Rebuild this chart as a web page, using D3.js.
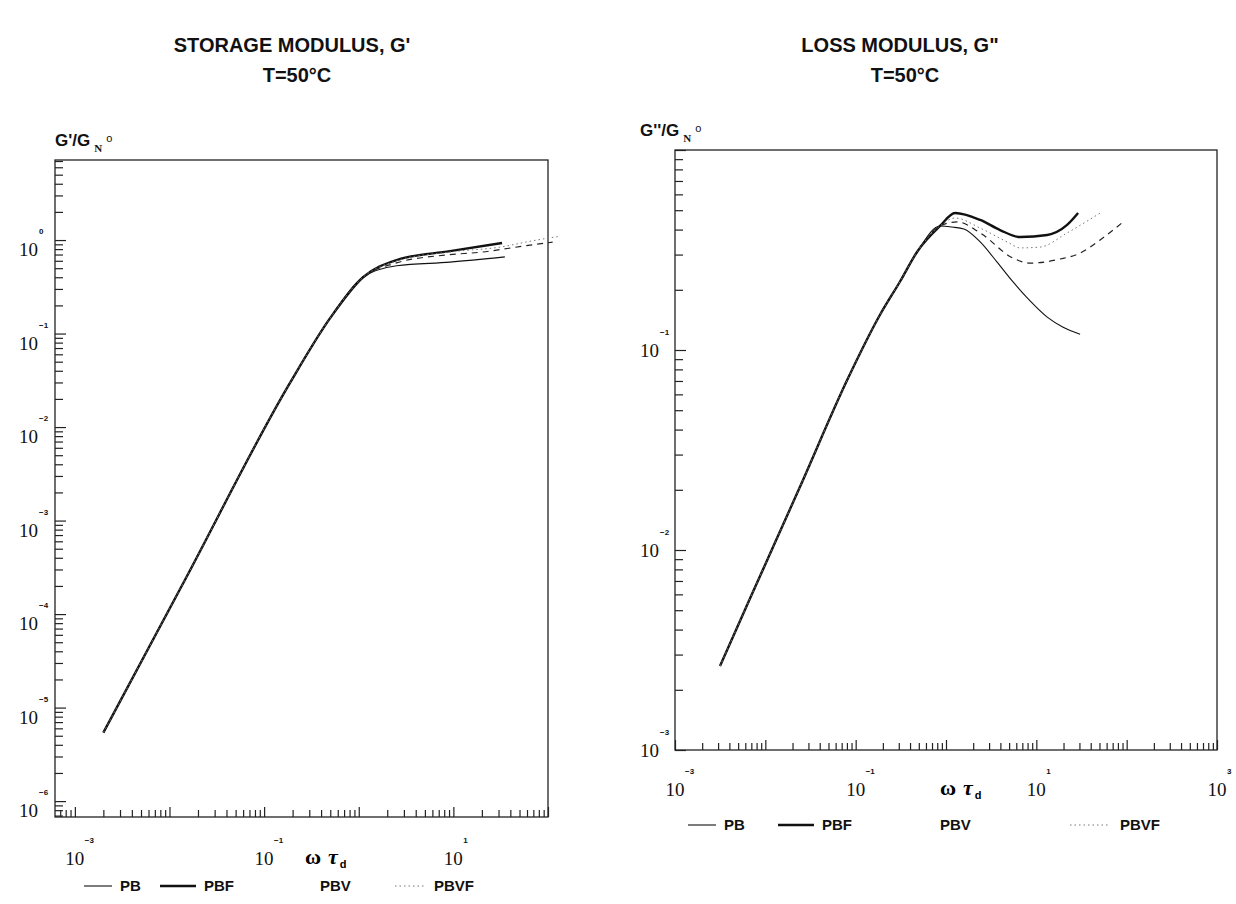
<!DOCTYPE html>
<html>
<head>
<meta charset="utf-8">
<script src="https://cdn.jsdelivr.net/npm/d3@7"></script>
<style>
  body { margin: 0; background: #fff; }
  svg { display: block; }
  .title { font-family: "Liberation Sans", Arial, sans-serif; font-weight: bold; font-size: 20px; fill: #111; }
  .dec { font-family: "Liberation Serif", "DejaVu Serif", serif; font-size: 19px; fill: #111; }
  .expo { font-family: "Liberation Sans", sans-serif; font-weight: bold; font-size: 8px; fill: #111; }
  .leg { font-family: "Liberation Sans", sans-serif; font-weight: bold; font-size: 15px; fill: #111; }
  .axlab { font-family: "Liberation Sans", sans-serif; font-weight: bold; font-size: 17px; fill: #111; }
</style>
</head>
<body>
<svg id="chart" width="1236" height="904"></svg>
<script>
// ---- data (omega*tau_d , modulus / G_N0) ----
const storageRise = [[2.0e-3, 5.4e-6], [1.45e-2, 2.3e-4], [0.187, 2.95e-2], [0.50, 0.147], [1.11, 0.40]];
const storagePB   = [[2.51, 0.53], [9.2, 0.58], [35, 0.66]];
const storagePBF  = [[2.51, 0.61], [9.2, 0.76], [32.7, 0.93]];
const storagePBV  = [[2.51, 0.57], [8.1, 0.69], [20.4, 0.745], [54, 0.86], [112, 0.95]];
const storagePBVF = [[2.51, 0.60], [9.2, 0.745], [31, 0.84], [68, 0.98], [135, 1.10]];

const lossRise = [[3.15e-3, 2.63e-3], [6.8e-3, 5.75e-3], [2.42e-2, 2.07e-2], [8.2e-2, 7.2e-2],
                  [0.186, 0.15], [0.31, 0.22], [0.48, 0.31], [0.86, 0.417]];
const lossPB   = [[1.17, 0.412], [1.58, 0.403], [2.39, 0.347], [3.68, 0.275], [5.53, 0.219],
                  [8.53, 0.176], [13.2, 0.146], [19.8, 0.130], [30.5, 0.120]];
const lossPBF  = [[1.26, 0.484], [2.39, 0.447], [3.97, 0.398], [6.62, 0.367], [13.2, 0.376],
                  [21.9, 0.422], [29.0, 0.484]];
const lossPBV  = [[1.33, 0.437], [2.39, 0.385], [5.53, 0.288], [8.53, 0.272], [18.4, 0.285],
                  [30.5, 0.305], [50.9, 0.355], [91.4, 0.437]];
const lossPBVF = [[1.26, 0.457], [2.39, 0.407], [4.75, 0.347], [6.62, 0.324], [11.0, 0.327],
                  [21.9, 0.385], [50.9, 0.484]];

const seriesNames = ["PB", "PBF", "PBV", "PBVF"];
const storageTitle = ["STORAGE MODULUS, G'", "T=50\u00B0C"];
const lossTitle = ["LOSS MODULUS, G\"", "T=50\u00B0C"];
const storageXLabels = [-3, -1, 1];
const storageYLabels = [0, -1, -2, -3, -4, -5, -6];
const lossXLabels = [-3, -1, 1, 3];
const lossYLabels = [-1, -2, -3];

// line look per series
const styles = {
  PB:   {w: 1.1, dash: null, color: "#111"},
  PBF:  {w: 2.4, dash: null, color: "#111"},
  PBV:  {w: 1.2, dash: "6,5", color: "#222"},
  PBVF: {w: 1.0, dash: "1.5,3", color: "#777"}
};

const svg = d3.select("#chart");

function drawPanel(cfg){
  let g = svg.append("g"),
      x = d3.scaleLog().domain(cfg.xDomain).range([cfg.left, cfg.right]),
      y = d3.scaleLog().domain(cfg.yDomain).range([cfg.bottom, cfg.top]);

  // titles
  g.append("text").attr("class", "title").attr("x", cfg.titleX).attr("y", 52)
    .attr("text-anchor", "middle").text(cfg.title[0]);
  g.append("text").attr("class", "title").attr("x", cfg.titleX + 5).attr("y", 82)
    .attr("text-anchor", "middle").text(cfg.title[1]);

  // frame
  g.append("rect").attr("x", cfg.left).attr("y", cfg.top)
    .attr("width", cfg.right - cfg.left).attr("height", cfg.bottom - cfg.top)
    .attr("fill", "none").attr("stroke", "#222").attr("stroke-width", 1.3);

  // minor + major ticks, pointing inside
  let xt = x.ticks().filter(function(v){ return v >= cfg.xDomain[0] && v <= cfg.xDomain[1]; }),
      yt = y.ticks().filter(function(v){ return v >= cfg.yDomain[0] && v <= cfg.yDomain[1]; });
  function isMajor(v){ return Math.abs(Math.log10(v) - Math.round(Math.log10(v))) < 1e-6; }

  g.append("g").attr("transform", "translate(0," + cfg.bottom + ")")
    .call(d3.axisBottom(x).tickValues(xt).tickSizeInner(-7).tickSizeOuter(0).tickFormat(""))
    .call(function(a){
      a.select(".domain").remove();
      a.selectAll(".tick line").attr("stroke", "#222").attr("stroke-width", 1.2)
        .attr("y2", function(d){ return isMajor(d) ? -10 : -7; });
    });
  g.append("g").attr("transform", "translate(" + cfg.left + ",0)")
    .call(d3.axisLeft(y).tickValues(yt).tickSizeInner(-8).tickSizeOuter(0).tickFormat(""))
    .call(function(a){
      a.select(".domain").remove();
      a.selectAll(".tick line").attr("stroke", "#222").attr("stroke-width", 1.2)
        .attr("x2", function(d){ return isMajor(d) ? 11 : 8; });
    });

  // decade labels 10^n
  cfg.xLabels.forEach(function(p){
    let px = x(Math.pow(10, p));
    g.append("text").attr("class", "dec").attr("x", px).attr("y", cfg.bottom + cfg.xLabDy)
      .attr("text-anchor", "middle").text("10");
    g.append("text").attr("class", "expo").attr("x", px + 10).attr("y", cfg.bottom + cfg.xLabDy - 22)
      .text(p < 0 ? "\u2212" + (-p) : p);
  });
  cfg.yLabels.forEach(function(p){
    let py = y(Math.pow(10, p));
    g.append("text").attr("class", "dec").attr("x", cfg.left - cfg.yLabDx).attr("y", py + cfg.yLabDy)
      .attr("text-anchor", "end").text("10");
    g.append("text").attr("class", "expo").attr("x", cfg.left - cfg.yLabDx + 1).attr("y", py + cfg.yLabDy - 22)
      .text(p < 0 ? "\u2212" + (-p) : p);
  });

  // y axis title
  let yl = g.append("text").attr("class", "axlab").attr("x", cfg.left + cfg.yNameDx).attr("y", cfg.top - 14);
  yl.append("tspan").text(cfg.yName + "/G");
  yl.append("tspan").attr("dx", 4).attr("dy", 6)
    .style("font-family", "Liberation Serif, serif").style("font-size", "11px").text("N");
  yl.append("tspan").attr("dx", 4).attr("dy", -10).style("font-size", "11px")
    .style("font-weight", "normal").text("o");

  // x axis title
  let xl = g.append("text").attr("x", cfg.xNameX).attr("y", cfg.bottom + cfg.xLabDy - 1)
    .style("font-family", "Liberation Serif, serif").style("font-weight", "bold").style("font-size", "22px");
  xl.append("tspan").text("\u03C9");
  xl.append("tspan").attr("dx", 7).style("font-style", "italic").text("\u03C4");
  xl.append("tspan").attr("dx", 2).attr("dy", 4).style("font-family", "Liberation Sans, sans-serif")
    .style("font-size", "11px").text("d");

  // curves
  let line = d3.line()
    .x(function(d){ return x(d[0]); })
    .y(function(d){ return y(d[1]); })
    .curve(d3.curveMonotoneX);
  g.selectAll(".curve")
    .data(cfg.series)
    .enter().append("path")
    .attr("class", "curve")
    .attr("fill", "none")
    .attr("d", function(s){ return line(cfg.rise.concat(s.pts)); })
    .attr("stroke", function(s){ return styles[s.name].color; })
    .attr("stroke-width", function(s){ return styles[s.name].w; })
    .attr("stroke-dasharray", function(s){ return styles[s.name].dash; })
    .attr("stroke-linejoin", "round");

  // legend
  cfg.legend.forEach(function(it, i){
    let st = styles[seriesNames[i]];
    if(it.lx !== null){
      g.append("line").attr("x1", it.lx).attr("x2", it.lx + it.len)
        .attr("y1", cfg.legY - 5).attr("y2", cfg.legY - 5)
        .attr("stroke", st.color).attr("stroke-width", st.w)
        .attr("stroke-dasharray", st.dash);
    }
    g.append("text").attr("class", "leg").attr("x", it.tx).attr("y", cfg.legY).text(seriesNames[i]);
  });
}

drawPanel({
  left: 55, right: 548, top: 160, bottom: 817,
  xDomain: [Math.pow(10, -3.21), 100],
  yDomain: [Math.pow(10, -6.17), Math.pow(10, 0.856)],
  title: storageTitle, titleX: 292,
  xLabels: storageXLabels, yLabels: storageYLabels,
  xLabDy: 48, yLabDx: 17, yLabDy: 16,
  yName: "G'", yNameDx: 0, xNameX: 305,
  rise: storageRise,
  series: [{name: "PB", pts: storagePB}, {name: "PBF", pts: storagePBF},
           {name: "PBV", pts: storagePBV}, {name: "PBVF", pts: storagePBVF}],
  legY: 891,
  legend: [{lx: 84, len: 28, tx: 120}, {lx: 160, len: 36, tx: 204},
           {lx: null, len: 0, tx: 320}, {lx: 395, len: 30, tx: 434}]
});

drawPanel({
  left: 675, right: 1217, top: 150, bottom: 750,
  xDomain: [1e-3, 1e3],
  yDomain: [1e-3, 1],
  title: lossTitle, titleX: 900,
  xLabels: lossXLabels, yLabels: lossYLabels,
  xLabDy: 46, yLabDx: 16, yLabDy: 7,
  yName: "G''", yNameDx: -35, xNameX: 940,
  rise: lossRise,
  series: [{name: "PB", pts: lossPB}, {name: "PBF", pts: lossPBF},
           {name: "PBV", pts: lossPBV}, {name: "PBVF", pts: lossPBVF}],
  legY: 830,
  legend: [{lx: 688, len: 28, tx: 724}, {lx: 778, len: 36, tx: 822},
           {lx: null, len: 0, tx: 940}, {lx: 1070, len: 40, tx: 1120}]
});
</script>
</body>
</html>
